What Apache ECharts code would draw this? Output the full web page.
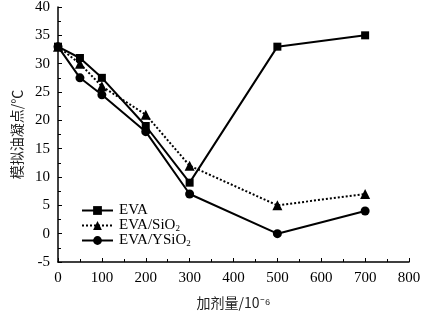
<!DOCTYPE html>
<html>
<head>
<meta charset="utf-8">
<script src="https://cdn.jsdelivr.net/npm/echarts@6/dist/echarts.min.js"></script>
<style>
  html, body { margin: 0; padding: 0; background: #fff; }
  #chart { width: 425px; height: 312px; }
</style>
</head>
<body>
<div id="chart"></div>
<script>
  const doses = [0, 50, 100, 200, 300, 500, 700];
  const eva = [33, 31, 27.5, 19, 9, 33, 35];
  const evaSiO2 = [33, 30, 26, 21, 12, 5, 7];
  const evaYSiO2 = [33, 27.5, 24.5, 18, 7, 0, 4];

  const font = '"Liberation Serif", "Times New Roman", serif';
  const cjk = '"Noto Sans CJK SC", sans-serif';
  const axisCol = '#000';

  function pairs(ys) { return doses.map((x, i) => [x, ys[i]]); }

  const chart = echarts.init(document.getElementById('chart'));
  chart.setOption({
    animation: false,
    grid: { left: 58, right: 16, top: 7, bottom: 50, outerBoundsMode: 'none', containLabel: false },
    legend: {
      orient: 'vertical', left: 76, top: 198, itemGap: 0,
      itemWidth: 31, itemHeight: 11,
      textStyle: {
        fontFamily: font, fontSize: 15, color: '#000', padding: [0, 0, 0, 1],
        height: 15, lineHeight: 15,
        rich: {
          main: { fontFamily: font, fontSize: 15, color: '#000', lineHeight: 15 },
          sub: { fontFamily: font, fontSize: 9, color: '#000', lineHeight: 6, verticalAlign: 'bottom' }
        }
      },
      formatter: n => n.endsWith('2') ? '{main|' + n.slice(0, -1) + '}{sub|2}' : '{main|' + n + '}',
      data: ['EVA', 'EVA/SiO2', 'EVA/YSiO2']
    },
    xAxis: {
      type: 'value', min: 0, max: 800, interval: 100,
      name: '加剂量/10⁻⁶', nameLocation: 'middle', nameGap: 34,
      nameTextStyle: { fontFamily: cjk, fontSize: 14, color: '#222' },
      axisLine: { onZero: false, lineStyle: { color: axisCol, width: 1.5 } },
      axisTick: { inside: true, length: 4, lineStyle: { color: axisCol } },
      minorTick: { show: true, splitNumber: 2, length: 3, lineStyle: { color: axisCol } },
      axisLabel: { fontFamily: font, fontSize: 15, color: '#000', margin: 9 },
      splitLine: { show: false }
    },
    yAxis: {
      type: 'value', min: -5, max: 40, interval: 5,
      name: '模拟油凝点/℃', nameLocation: 'middle', nameGap: 34, nameRotate: 90,
      nameTextStyle: { fontFamily: cjk, fontSize: 14, color: '#222' },
      axisLine: { show: true, onZero: false, lineStyle: { color: axisCol, width: 1.5 } },
      axisTick: { inside: true, length: 4, lineStyle: { color: axisCol } },
      minorTick: { show: true, splitNumber: 2, length: 3, lineStyle: { color: axisCol } },
      axisLabel: { fontFamily: font, fontSize: 15, color: '#000', margin: 8 },
      splitLine: { show: false }
    },
    series: [
      {
        name: 'EVA', type: 'line', data: pairs(eva),
        symbol: 'rect', symbolSize: 8,
        lineStyle: { color: '#000', width: 2 }, itemStyle: { color: '#000' }
      },
      {
        name: 'EVA/SiO2', type: 'line', data: pairs(evaSiO2),
        symbol: 'triangle', symbolSize: 10,
        lineStyle: { color: '#000', width: 2, type: [2, 2] }, itemStyle: { color: '#000' }
      },
      {
        name: 'EVA/YSiO2', type: 'line', data: pairs(evaYSiO2),
        symbol: 'circle', symbolSize: 9,
        lineStyle: { color: '#000', width: 2 }, itemStyle: { color: '#000' }
      }
    ]
  });
</script>
</body>
</html>
